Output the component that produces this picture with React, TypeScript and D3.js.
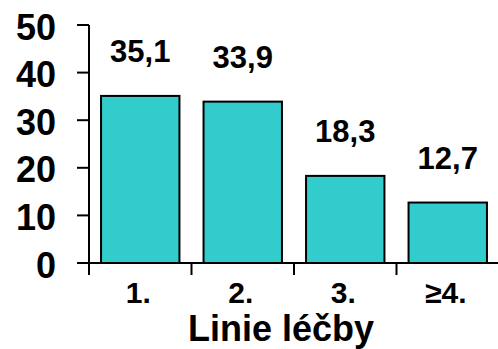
import React from "react";
import * as d3 from "d3";

const categories = ["1.", "2.", "3.", "≥4."];
const values = [35.1, 33.9, 18.3, 12.7];
const valueLabels = ["35,1", "33,9", "18,3", "12,7"];
const yTicks = [0, 10, 20, 30, 40, 50];
const xTitle = "Linie léčby";

const W = 498;
const H = 349;
const FONT = "'Liberation Sans', Arial, Helvetica, sans-serif";

export default function App() {
  const x = d3
    .scaleBand<string>()
    .domain(categories)
    .range([89, 499])
    .paddingInner(0.235)
    .paddingOuter(0.1175);
  const y = d3.scaleLinear().domain([0, 50]).range([263, 25]);

  const bandStep = x.step();
  const tickXs = categories.map((_, i) => 89 + i * bandStep);

  return (
    <svg
      width={W}
      height={H}
      style={{ position: "absolute", left: 0, top: 0, background: "#fff" }}
      fontFamily={FONT}
      fontWeight="bold"
    >
      {/* bars */}
      {categories.map((c, i) => (
        <rect
          key={c}
          x={x(c)}
          y={y(values[i])}
          width={x.bandwidth()}
          height={y(0) - y(values[i])}
          fill="#33CCCC"
          stroke="#000"
          strokeWidth={2}
        />
      ))}

      {/* value labels */}
      {categories.map((c, i) => (
        <text
          key={c}
          x={(x(c) ?? 0) + x.bandwidth() / 2}
          y={y(values[i]) - 34}
          textAnchor="middle"
          fontSize={31}
          fill="#000"
        >
          {valueLabels[i]}
        </text>
      ))}

      {/* y axis */}
      <line x1={89} x2={89} y1={y(50)} y2={y(0)} stroke="#000" strokeWidth={2} />
      {yTicks.map((t) => (
        <g key={t}>
          <line x1={77} x2={89} y1={y(t)} y2={y(t)} stroke="#000" strokeWidth={2} />
          <text x={56} y={y(t) + 14.5} textAnchor="end" fontSize={36} fill="#000">
            {t}
          </text>
        </g>
      ))}

      {/* x axis */}
      <line x1={88} x2={W} y1={y(0)} y2={y(0)} stroke="#000" strokeWidth={2} />
      {tickXs.map((tx, i) => (
        <line key={i} x1={tx} x2={tx} y1={y(0)} y2={y(0) + 12} stroke="#000" strokeWidth={2} />
      ))}
      {categories.map((c) => (
        <text
          key={c}
          x={(x(c) ?? 0) + x.bandwidth() / 2 - 2}
          y={303}
          textAnchor="middle"
          fontSize={30}
          fill="#000"
        >
          {c}
        </text>
      ))}

      <text x={281} y={341} textAnchor="middle" fontSize={36} fill="#000">
        {xTitle}
      </text>
    </svg>
  );
}
